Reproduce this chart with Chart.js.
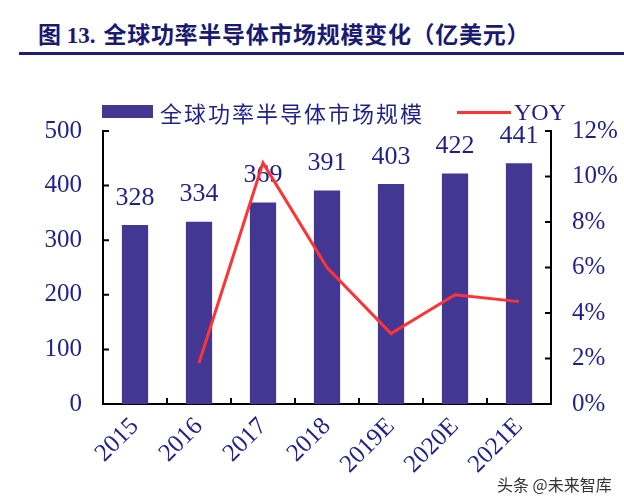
<!DOCTYPE html>
<html>
<head>
<meta charset="utf-8">
<script src="https://cdn.jsdelivr.net/npm/chart.js@4.4.1/dist/chart.umd.min.js"></script>
<style>
  html, body { margin: 0; padding: 0; background: #fff; }
  body { width: 624px; height: 503px; position: relative; overflow: hidden; }
  #title { position: absolute; left: 38px; top: 16px; font-family: "Liberation Serif", "Noto Sans CJK SC", serif; font-weight: bold; font-size: 23px; color: #1a1a72; white-space: nowrap; }
  #title .cjk { font-family: "Noto Sans CJK SC", sans-serif; letter-spacing: 0.7px; margin-left: 8px; }
  #rule { position: absolute; left: 19px; right: 0; top: 52px; height: 3px; background: #1c1c7a; }
  #wrap { position: absolute; left: 0; top: 0; width: 624px; height: 503px; }
  .leg { position: absolute; white-space: nowrap; color: #1f1f8f; }
  #legBar { left: 102px; top: 105px; width: 51px; height: 13px; background: #433794; }
  #legBarTxt { left: 160px; top: 97px; font-family: "Noto Sans CJK SC", sans-serif; font-size: 22px; letter-spacing: 2px; line-height: 30px; }
  #legLine { left: 457px; top: 111px; width: 54px; height: 3px; background: #ff3333; }
  #legLineTxt { left: 514px; top: 98px; font-family: "Liberation Serif", serif; font-size: 24px; line-height: 28px; }
  #wm { position: absolute; left: 497px; top: 472px; font-family: "Noto Sans CJK SC", sans-serif; font-size: 16px; color: #333; white-space: nowrap; text-shadow: 0 0 2px #fff; }
</style>
</head>
<body>
<div id="title">图 13.<span class="cjk">全球功率半导体市场规模变化（亿美元）</span></div>
<div id="rule"></div>
<div id="wrap"><canvas id="c" width="624" height="503"></canvas></div>
<div class="leg" id="legBar"></div>
<div class="leg" id="legBarTxt">全球功率半导体市场规模</div>
<div class="leg" id="legLine"></div>
<div class="leg" id="legLineTxt">YOY</div>
<div id="wm">头条 @未来智库</div>
<script>
const categories = ["2015", "2016", "2017", "2018", "2019E", "2020E", "2021E"];
const marketSize = [328, 334, 369, 391, 403, 422, 441];
const yoyPercent = [null, 1.8, 10.6, 6.0, 3.1, 4.8, 4.5];
const leftTicks = [0, 100, 200, 300, 400, 500];
const rightTicks = [0, 2, 4, 6, 8, 10, 12];

const NAVY = "#1f1f8f";
const serif = "'Liberation Serif', 'Times New Roman', serif";

const labelPlugin = {
  id: "barLabels",
  afterDatasetDraw(chart, args) {
    if (args.index !== 0) return;
    const ctx = chart.ctx;
    const meta = chart.getDatasetMeta(0);
    ctx.save();
    ctx.font = "26px " + serif;
    ctx.fillStyle = NAVY;
    ctx.textAlign = "center";
    ctx.textBaseline = "middle";
    meta.data.forEach((el, i) => {
      ctx.fillText(String(marketSize[i]), el.x, el.y - 27);
    });
    ctx.restore();
  }
};

const tickPlugin = {
  id: "inwardTicks",
  afterDraw(chart) {
    const ctx = chart.ctx;
    const y = chart.scales.y, y1 = chart.scales.y1, x = chart.scales.x;
    const area = chart.chartArea;
    ctx.save();
    ctx.strokeStyle = "#000";
    ctx.lineWidth = 2;
    ctx.beginPath();
    leftTicks.forEach(v => {
      if (v === 0) return;
      const py = y.getPixelForValue(v);
      ctx.moveTo(area.left, py); ctx.lineTo(area.left + 6, py);
    });
    rightTicks.forEach(v => {
      if (v === 0) return;
      const py = y1.getPixelForValue(v);
      ctx.moveTo(area.right - 6, py); ctx.lineTo(area.right, py);
    });
    for (let i = 1; i < categories.length; i++) {
      const px = (x.getPixelForValue(i - 1) + x.getPixelForValue(i)) / 2;
      ctx.moveTo(px, area.bottom); ctx.lineTo(px, area.bottom - 6);
    }
    ctx.stroke();
    ctx.restore();
  }
};

new Chart(document.getElementById("c"), {
  type: "bar",
  data: {
    labels: categories,
    datasets: [
      {
        label: "全球功率半导体市场规模",
        data: marketSize,
        backgroundColor: "#433794",
        yAxisID: "y",
        order: 2,
        categoryPercentage: 1,
        barPercentage: 0.41
      },
      {
        type: "line",
        label: "YOY",
        data: yoyPercent,
        borderColor: "#ff3333",
        backgroundColor: "#ff3333",
        borderWidth: 3,
        pointRadius: 0,
        tension: 0,
        yAxisID: "y1",
        order: 1
      }
    ]
  },
  options: {
    responsive: false,
    animation: false,
    devicePixelRatio: 1,
    layout: { padding: { left: 0, right: 0, top: 131, bottom: 0 } },
    plugins: { legend: { display: false }, tooltip: { enabled: false } },
    scales: {
      x: {
        grid: { display: false, drawTicks: false },
        border: { display: true, color: "#000", width: 2 },
        ticks: { minRotation: 45, maxRotation: 45, padding: 8, color: NAVY, font: { family: serif, size: 25 } },
        afterFit(s) { s.height = 99; }
      },
      y: {
        position: "left",
        min: 0, max: 500,
        grid: { display: false, drawTicks: false },
        border: { display: true, color: "#000", width: 2 },
        ticks: { stepSize: 100, padding: 21, color: NAVY, font: { family: serif, size: 25 } },
        afterFit(s) { s.width = 103; }
      },
      y1: {
        position: "right",
        min: 0, max: 12,
        grid: { display: false, drawTicks: false },
        border: { display: true, color: "#000", width: 2 },
        ticks: { stepSize: 2, padding: 21, color: NAVY, font: { family: serif, size: 25 }, callback: v => v + "%" },
        afterFit(s) { s.width = 73; }
      }
    }
  },
  plugins: [labelPlugin, tickPlugin]
});
</script>
</body>
</html>
